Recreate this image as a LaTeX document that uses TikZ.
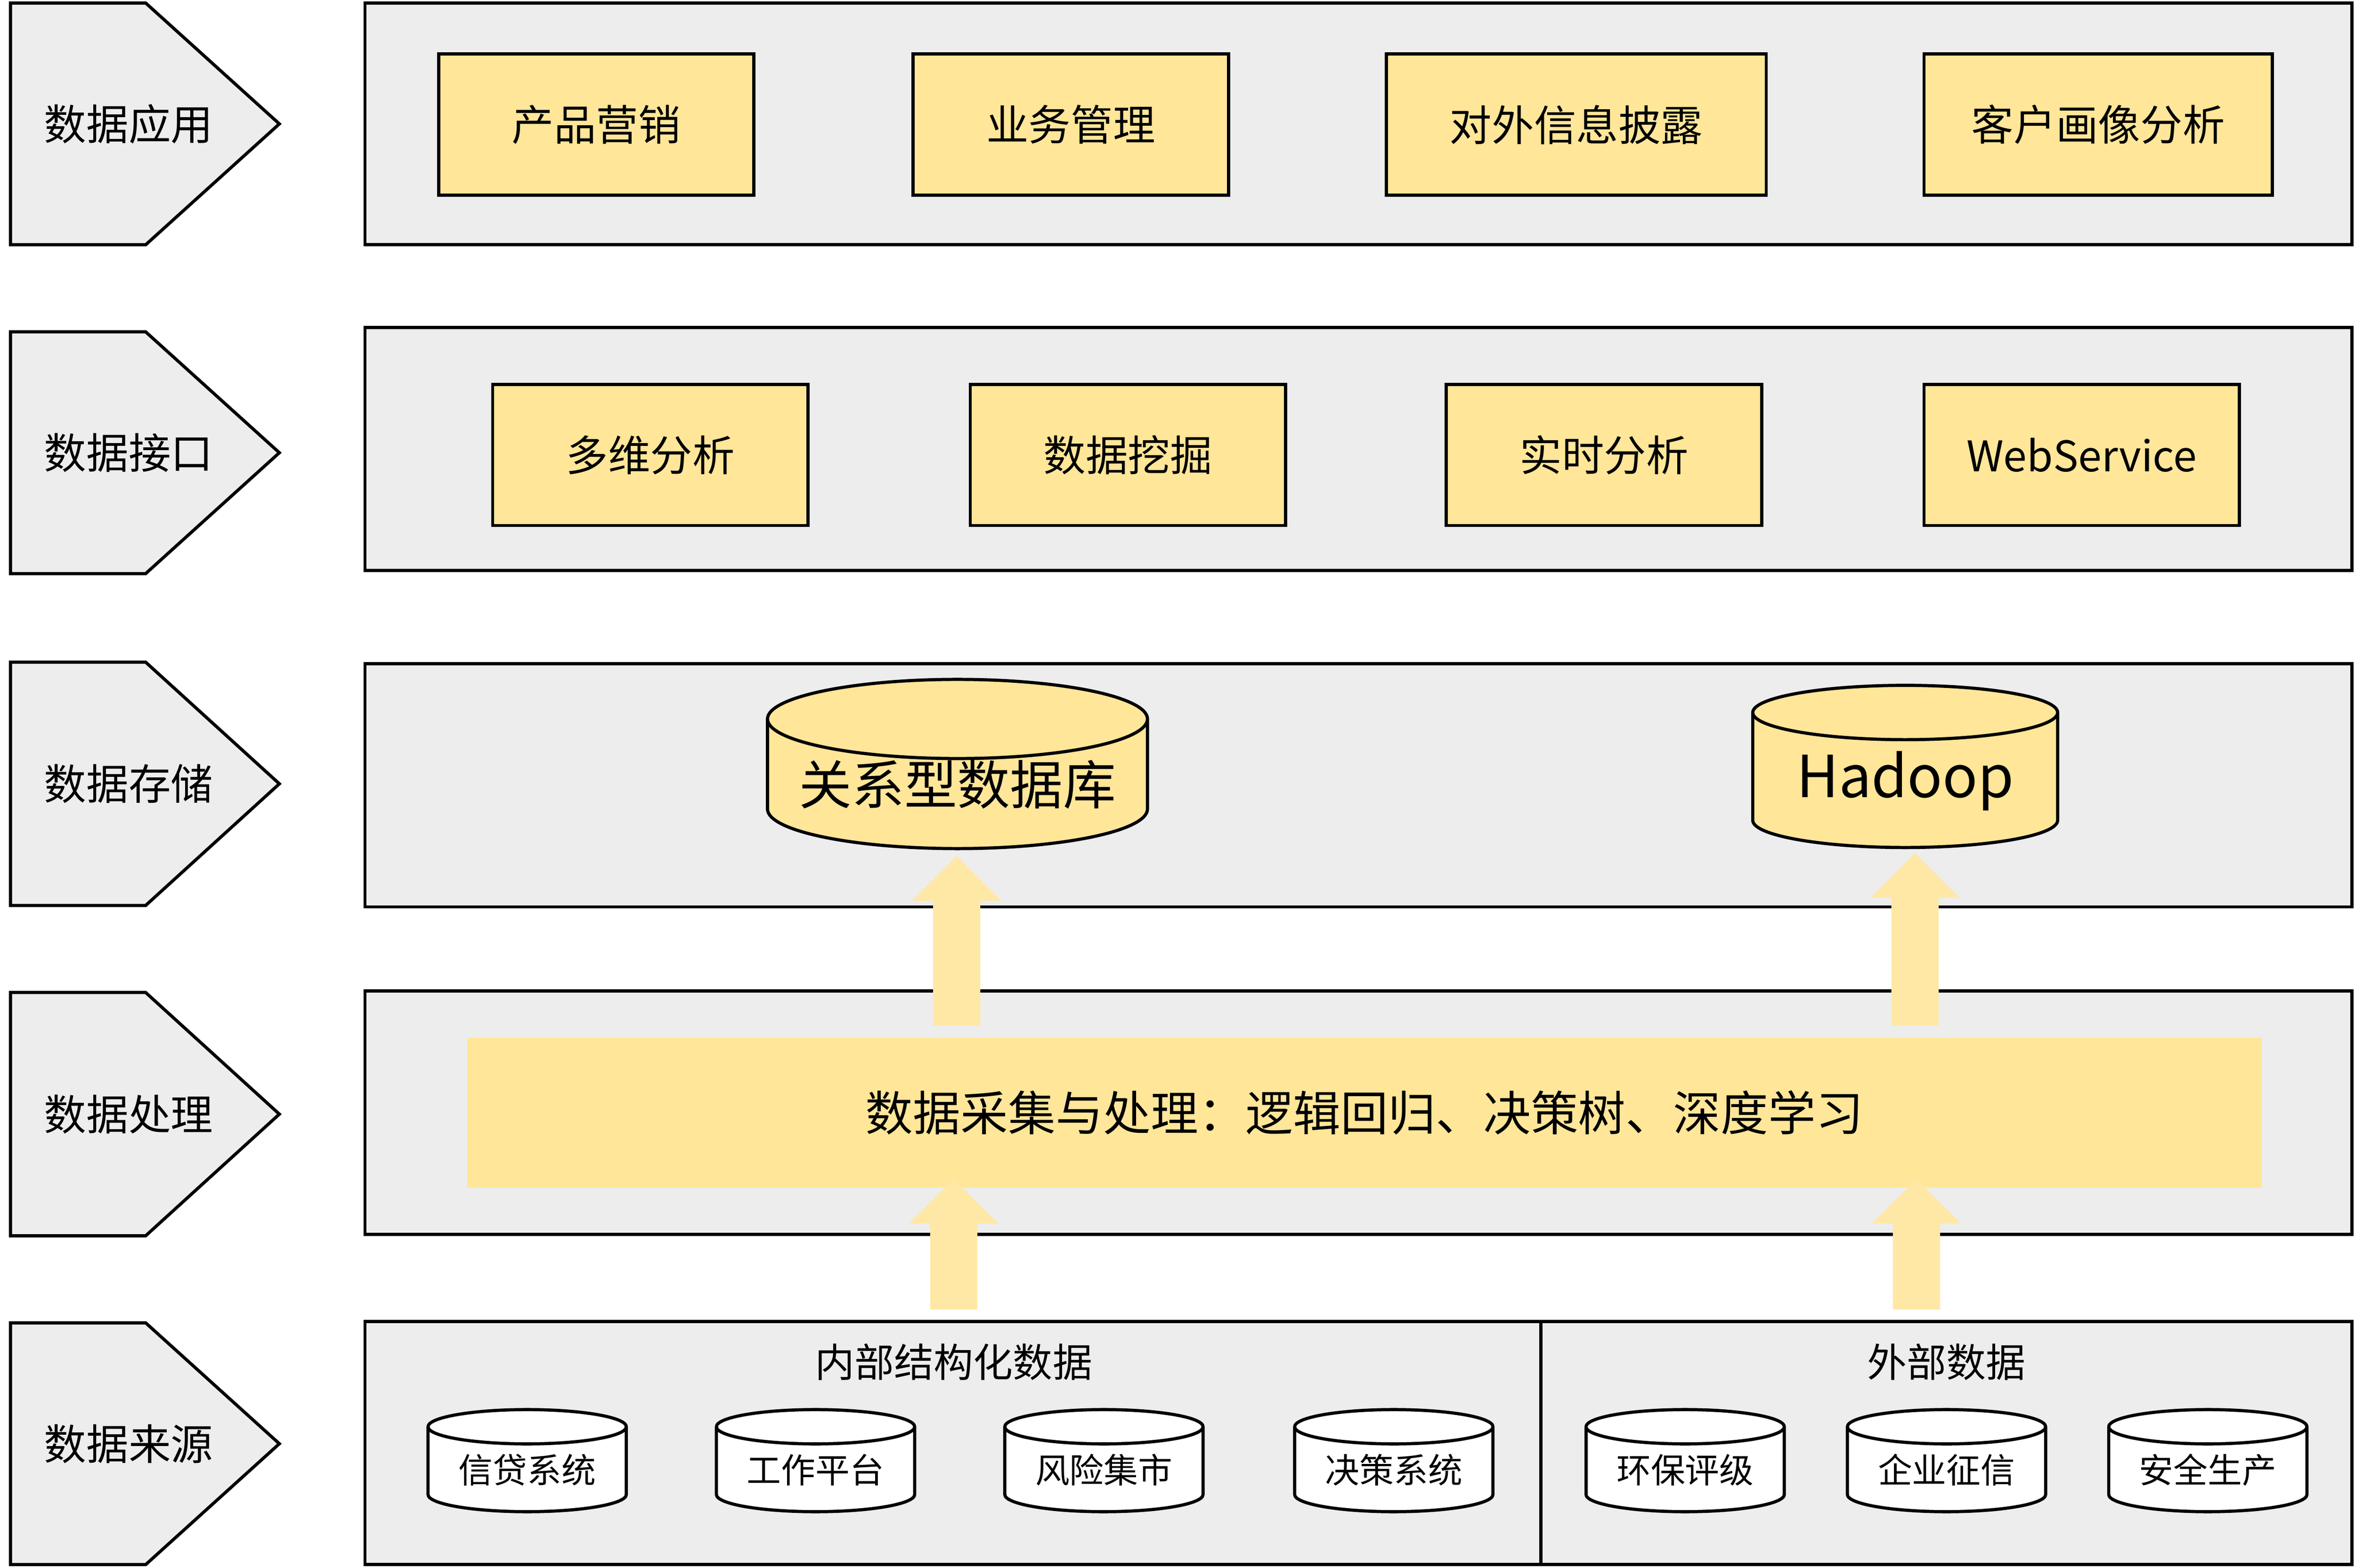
\documentclass[tikz,border=0pt]{standalone}
\usepackage{fontspec}
\setmainfont{Noto Sans CJK SC}
\usetikzlibrary{shapes.geometric,shapes.arrows,arrows.meta}
\definecolor{panelgray}{HTML}{EDEDED}
\definecolor{boxyellow}{HTML}{FFE699}
\definecolor{arrowyellow}{HTML}{FFE8A6}
\tikzstyle{panel} = [draw, line width=0.6pt, fill=panelgray]
\tikzstyle{block} = [draw, line width=0.6pt, fill=boxyellow, font=\fontsize{8}{9}\selectfont, inner sep=0pt]
\tikzstyle{db} = [draw, line width=0.6pt, cylinder, shape border rotate=90, aspect=0.25, inner sep=0pt]
\tikzstyle{layer} = [draw, line width=0.6pt, fill=panelgray]
\tikzstyle{bigarrow} = [draw=none, fill=arrowyellow, single arrow, shape border rotate=90,
    minimum width=0.58cm, single arrow head extend=0.14cm, single arrow head indent=0cm, inner sep=0.15cm]
\newcommand{\layerarrow}[3]{% top y, bottom y, label
    \draw[layer] (0.07,-#1) -- (0.97,-#1) -- (1.86,{-(#1+#2)/2}) -- (0.97,-#2) -- (0.07,-#2) -- cycle;
    \node[font=\fontsize{8}{9}\selectfont, anchor=west] at (0.17,{-(#1+#2)/2}) {#3};}

\begin{document}
\begin{tikzpicture}
    \useasboundingbox (0,0) rectangle (15.68,-10.44);
    % Layer labels
    \layerarrow{0.02}{1.63}{数据应用}
    \layerarrow{2.21}{3.82}{数据接口}
    \layerarrow{4.41}{6.03}{数据存储}
    \layerarrow{6.61}{8.23}{数据处理}
    \layerarrow{8.81}{10.42}{数据来源}

    % Panels
    \draw[panel] (2.43,-0.02) rectangle (15.66,-1.63);
    \draw[panel] (2.43,-2.18) rectangle (15.66,-3.80);
    \draw[panel] (2.43,-4.42) rectangle (15.66,-6.04);
    \draw[panel] (2.43,-6.60) rectangle (15.66,-8.22);
    \draw[panel] (2.43,-8.80) rectangle (15.66,-10.42);
    \draw[line width=0.6pt] (10.26,-8.80) -- (10.26,-10.42);

    % Application blocks
    \node[block, minimum width=2.10cm, minimum height=0.94cm] (sales) at (3.97,-0.83) {产品营销};
    \node[block, minimum width=2.10cm, minimum height=0.94cm] (biz) at (7.13,-0.83) {业务管理};
    \node[block, minimum width=2.53cm, minimum height=0.94cm] (disclose) at (10.495,-0.83) {对外信息披露};
    \node[block, minimum width=2.32cm, minimum height=0.94cm] (portrait) at (13.97,-0.83) {客户画像分析};

    % Interface blocks
    \node[block, minimum width=2.10cm, minimum height=0.94cm] (olap) at (4.33,-3.03) {多维分析};
    \node[block, minimum width=2.10cm, minimum height=0.94cm] (mining) at (7.51,-3.03) {数据挖掘};
    \node[block, minimum width=2.10cm, minimum height=0.94cm] (realtime) at (10.68,-3.03) {实时分析};
    \node[block, minimum width=2.10cm, minimum height=0.94cm] (ws) at (13.86,-3.03) {WebService};

    % Storage
    \node[db, fill=boxyellow, minimum width=2.53cm, minimum height=1.09cm,
          font=\fontsize{10}{12}\selectfont] (rdb) at (6.375,-5.225) {关系型数据库};
    \node[db, fill=boxyellow, minimum width=2.03cm, minimum height=1.08cm,
          font=\fontsize{11}{13}\selectfont] (hadoop) at (12.685,-5.20) {Hadoop};

    % Processing band
    \node[fill=boxyellow, minimum width=11.95cm, minimum height=1.00cm,
          font=\fontsize{9}{11}\selectfont] (proc) at (9.085,-7.41) {数据采集与处理：逻辑回归、决策树、深度学习};

    % Sources
    \node[font=\fontsize{7.5}{9}\selectfont] (inner) at (6.35,-9.07) {内部结构化数据};
    \node[font=\fontsize{7.5}{9}\selectfont] (outer) at (12.96,-9.07) {外部数据};
    \foreach \name/\x/\txt in {credit/3.51/信贷系统, work/5.43/工作平台, risk/7.35/风险集市,
        decide/9.28/决策系统, env/11.22/环保评级, corp/12.96/企业征信, safe/14.70/安全生产}
        \node[db, fill=white, minimum width=1.32cm, minimum height=0.68cm,
              font=\fontsize{6.5}{8}\selectfont] (\name) at (\x,-9.79) {\txt};

    % Arrows
    \node[bigarrow, minimum height=1.13cm] (a1) at (6.37,-6.345) {};
    \node[bigarrow, minimum height=1.15cm] (a2) at (12.75,-6.335) {};
    \node[bigarrow, minimum height=0.87cm] (a3) at (6.35,-8.365) {};
    \node[bigarrow, minimum height=0.87cm] (a4) at (12.76,-8.365) {};
\end{tikzpicture}
\end{document}
